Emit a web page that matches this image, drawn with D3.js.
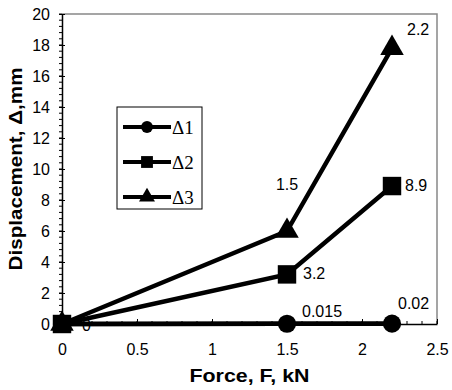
<!DOCTYPE html>
<html>
<head>
<meta charset="utf-8">
<script src="https://cdn.jsdelivr.net/npm/d3@7"></script>
<style>
  body { margin: 0; background: #fff; }
  svg text { font-family: "Liberation Sans", Arial, sans-serif; }
</style>
</head>
<body>
<svg id="chart" width="452" height="390"></svg>
<script>
// data
const force = [0, 1.5, 2.2];
const delta1 = [0, 0.015, 0.02];
const delta2 = [0, 3.2, 8.9];
const delta3 = [0, 6, 17.8];
const seriesNames = ["\u03941", "\u03942", "\u03943"];
const symbols = ["circle", "square", "triangle"];
// point labels as they appear on the chart
const labels1 = ["0", "0.015", "0.02"];
const labels2 = ["", "3.2", "8.9"];
const labels3 = ["", "1.5", "2.2"];
const xTicks = [0, 0.5, 1, 1.5, 2, 2.5];
const yTicks = [0, 2, 4, 6, 8, 10, 12, 14, 16, 18, 20];

const svg = d3.select("#chart");
const margin = {left: 62, top: 14, right: 15, bottom: 66};
const width = 452 - margin.left - margin.right;
const height = 390 - margin.top - margin.bottom;

const x = d3.scaleLinear().domain([0, 2.5]).range([0, width]);
const y = d3.scaleLinear().domain([0, 20]).range([height, 0]);

const g = svg.append("g")
    .attr("transform", "translate(" + margin.left + "," + margin.top + ")");

// grey frame top/right
g.append("path")
    .attr("d", "M0,0H" + width + "V" + height)
    .attr("fill", "none").attr("stroke", "#888").attr("stroke-width", 1.5);

// minor ticks
g.append("g").selectAll("line")
    .data(d3.range(0, 20.01, 0.4))
    .enter().append("line")
    .attr("x1", -3).attr("x2", 0)
    .attr("y1", d => y(d)).attr("y2", d => y(d))
    .attr("stroke", "#000");
g.append("g").selectAll("line")
    .data(d3.range(0, 2.51, 0.1))
    .enter().append("line")
    .attr("x1", d => x(d)).attr("x2", d => x(d))
    .attr("y1", height).attr("y2", height - 3)
    .attr("stroke", "#000");

// axes
const xAxis = g.append("g")
    .attr("transform", "translate(0," + height + ")")
    .call(d3.axisBottom(x).tickValues(xTicks).tickFormat(d3.format("")).tickSizeInner(-5).tickSizeOuter(0).tickPadding(20));
const yAxis = g.append("g")
    .call(d3.axisLeft(y).tickValues(yTicks).tickSizeInner(6).tickSizeOuter(0).tickPadding(6));
[xAxis, yAxis].forEach(a => {
    a.select(".domain").attr("stroke", "#000").attr("stroke-width", 1.5);
    a.selectAll("text").attr("font-size", 16).attr("fill", "#000")
        .style("font-family", "'Liberation Sans', Arial, sans-serif");
});
yAxis.selectAll(".tick line").attr("x2", 3).attr("x1", -3);

// axis titles
svg.append("text")
    .attr("x", margin.left + width / 2).attr("y", 382)
    .attr("text-anchor", "middle")
    .attr("font-size", 18).attr("font-weight", "bold")
    .attr("textLength", 120).attr("lengthAdjust", "spacingAndGlyphs")
    .text("Force, F, kN");
svg.append("text")
    .attr("transform", "translate(22," + (margin.top + height / 2) + ") rotate(-90)")
    .attr("text-anchor", "middle")
    .attr("font-size", 18).attr("font-weight", "bold")
    .attr("textLength", 203).attr("lengthAdjust", "spacingAndGlyphs")
    .text("Displacement, \u0394,mm");

// series
const series = [delta1, delta2, delta3].map((vals, i) => ({
    name: seriesNames[i],
    symbol: symbols[i],
    points: force.map((f, j) => ({x: f, y: vals[j]}))
}));

const symbolGen = {
    circle: d3.symbol().type(d3.symbolCircle).size(260),
    square: d3.symbol().type(d3.symbolSquare).size(340),
    triangle: d3.symbol().type(d3.symbolTriangle).size(240)
};

const line = d3.line().x(d => x(d.x)).y(d => y(d.y));

// draw lines
series.forEach(s => {
    g.append("path")
        .datum(s.points)
        .attr("d", line)
        .attr("fill", "none")
        .attr("stroke", "#000")
        .attr("stroke-width", 4.5);
});

// point labels (drawn beneath markers)
const labelSets = [labels1, labels2, labels3];
const labelOffsets = [
    [[20, 7], [15, -7], [6, -15]],
    [[0, 0], [16, 5], [13, 5]],
    [[0, 0], [0, -41], [15, -13]]
];
labelSets.forEach((labs, i) => {
    labs.forEach((t, j) => {
        if (!t) return;
        const off = labelOffsets[i][j];
        g.append("text")
            .attr("x", x(force[j]) + off[0])
            .attr("y", y(series[i].points[j].y) + off[1])
            .attr("text-anchor", i === 2 && j === 1 ? "middle" : "start")
            .attr("font-size", 16)
            .attr("fill", "#000")
            .text(t);
    });
});

// Δ1 line over its 0 label
g.append("path")
    .datum(series[0].points)
    .attr("d", line)
    .attr("fill", "none").attr("stroke", "#000").attr("stroke-width", 4.5);

// markers
series.forEach(s => {
    g.selectAll(null)
        .data(s.points)
        .enter().append("path")
        .attr("transform", d => "translate(" + x(d.x) + "," + y(d.y) + ")")
        .attr("d", symbolGen[s.symbol])
        .attr("fill", "#000");
});

// legend
const legend = svg.append("g").attr("transform", "translate(117,107)");
legend.append("rect")
    .attr("width", 85).attr("height", 102)
    .attr("fill", "#fff").attr("stroke", "#000").attr("stroke-width", 1);
const legendSym = {
    circle: d3.symbol().type(d3.symbolCircle).size(110),
    square: d3.symbol().type(d3.symbolSquare).size(140),
    triangle: d3.symbol().type(d3.symbolTriangle).size(110)
};
series.forEach((s, i) => {
    const ly = 20 + i * 35;
    legend.append("line")
        .attr("x1", 6).attr("x2", 54).attr("y1", ly).attr("y2", ly)
        .attr("stroke", "#000").attr("stroke-width", 4);
    legend.append("path")
        .attr("transform", "translate(30," + ly + ")")
        .attr("d", legendSym[s.symbol])
        .attr("fill", "#000");
    legend.append("text")
        .attr("x", 55).attr("y", ly + 7)
        .attr("font-size", 19)
        .style("font-family", "'Liberation Serif', 'Times New Roman', serif")
        .text(s.name);
});
</script>
</body>
</html>
